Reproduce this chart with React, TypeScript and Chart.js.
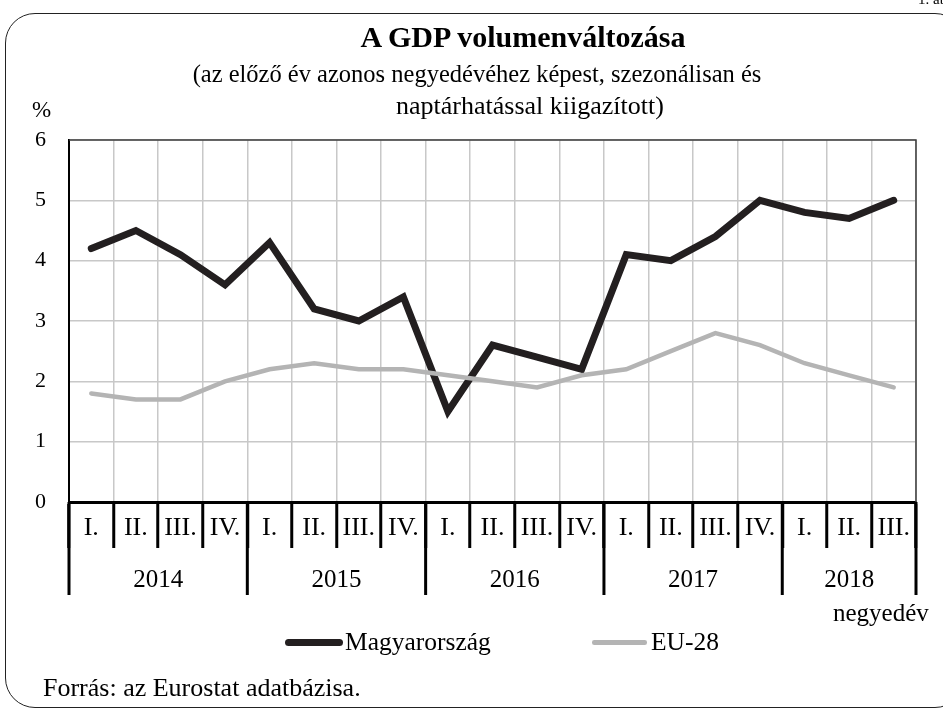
import React, { useEffect, useRef } from "react";
import { Chart, registerables } from "chart.js";

Chart.register(...registerables);

const quarterLabels = [
  "I.", "II.", "III.", "IV.",
  "I.", "II.", "III.", "IV.",
  "I.", "II.", "III.", "IV.",
  "I.", "II.", "III.", "IV.",
  "I.", "II.", "III.",
];
const yearLabels = ["2014", "2015", "2016", "2017", "2018"];
const quartersPerYear = [4, 4, 4, 4, 3];
const hungary = [4.2, 4.5, 4.1, 3.6, 4.3, 3.2, 3.0, 3.4, 1.5, 2.6, 2.4, 2.2, 4.1, 4.0, 4.4, 5.0, 4.8, 4.7, 5.0];
const eu28 = [1.8, 1.7, 1.7, 2.0, 2.2, 2.3, 2.2, 2.2, 2.1, 2.0, 1.9, 2.1, 2.2, 2.5, 2.8, 2.6, 2.3, 2.1, 1.9];
const yMin = 0;
const yMax = 6;
const yStep = 1;

const FONT = "'Liberation Serif', 'Times New Roman', serif";

const yearAxisPlugin = {
  id: "yearAxis",
  afterDraw(chart: any) {
    const { ctx, chartArea, scales } = chart;
    const x = scales.x;
    const half = (x.getPixelForValue(1) - x.getPixelForValue(0)) / 2;
    ctx.save();
    ctx.strokeStyle = "#3c3c3c";
    ctx.lineWidth = 1.5;
    ctx.beginPath();
    ctx.moveTo(chartArea.left, chartArea.top);
    ctx.lineTo(chartArea.right, chartArea.top);
    ctx.lineTo(chartArea.right, chartArea.bottom);
    ctx.stroke();

    const bounds: number[] = [0];
    let acc = 0;
    quartersPerYear.forEach((c) => {
      acc += c;
      bounds.push(acc);
    });
    const bx = (b: number) =>
      b === 0 ? x.getPixelForValue(0) - half : x.getPixelForValue(b - 1) + half;
    ctx.strokeStyle = "#000";
    ctx.lineWidth = 3;
    ctx.lineCap = "butt";
    bounds.forEach((b) => {
      const px = bx(b);
      ctx.beginPath();
      ctx.moveTo(px, chartArea.bottom);
      ctx.lineTo(px, chartArea.bottom + 93);
      ctx.stroke();
    });
    ctx.fillStyle = "#000";
    ctx.font = `25px ${FONT}`;
    ctx.textAlign = "center";
    ctx.textBaseline = "alphabetic";
    yearLabels.forEach((yl, i) => {
      const c = (bx(bounds[i]) + bx(bounds[i + 1])) / 2;
      ctx.fillText(yl, c, chartArea.bottom + 85);
    });
    ctx.restore();
  },
};

function App() {
  const ref = useRef<HTMLCanvasElement | null>(null);

  useEffect(() => {
    if (!ref.current) return;
    const chart = new Chart(ref.current, {
      type: "line",
      data: {
        labels: quarterLabels,
        datasets: [
          {
            label: "EU-28",
            data: eu28,
            borderColor: "#b4b4b4",
            backgroundColor: "#b4b4b4",
            borderWidth: 4.5,
            pointRadius: 0,
            tension: 0,
            borderJoinStyle: "miter",
            borderCapStyle: "round",
            order: 0,
          },
          {
            label: "Magyarország",
            data: hungary,
            borderColor: "#231f20",
            backgroundColor: "#231f20",
            borderWidth: 7,
            pointRadius: 0,
            tension: 0,
            borderJoinStyle: "miter",
            borderCapStyle: "round",
            order: 1,
          },
        ],
      },
      options: {
        responsive: false,
        animation: false,
        layout: { padding: { top: 140, right: 27, left: 0, bottom: 0 } },
        plugins: {
          legend: { display: false },
          title: { display: false },
          tooltip: { enabled: false },
        },
        scales: {
          x: {
            offset: true,
            grid: {
              offset: true,
              color: "#c8c8c8",
              lineWidth: 1.5,
              drawTicks: true,
              tickLength: 46,
              tickColor: "#000",
              tickWidth: 3,
            },
            border: { display: true, color: "#000", width: 3 },
            ticks: {
              autoSkip: false,
              maxRotation: 0,
              minRotation: 0,
              padding: -35,
              color: "#000",
              font: { family: FONT, size: 26 },
            },
            afterFit(scale: any) {
              scale.height = 208;
            },
          },
          y: {
            min: yMin,
            max: yMax,
            grid: { color: "#c8c8c8", lineWidth: 1.5, drawTicks: false },
            border: { display: true, color: "#000", width: 2 },
            ticks: {
              stepSize: yStep,
              padding: 23,
              color: "#000",
              font: { family: FONT, size: 22 },
            },
            afterFit(scale: any) {
              scale.width = 69;
            },
          },
        },
      },
      plugins: [yearAxisPlugin],
    } as any);
    return () => chart.destroy();
  }, []);

  const text = (
    content: string,
    style: React.CSSProperties
  ): React.ReactElement => (
    <div
      style={{
        position: "absolute",
        whiteSpace: "nowrap",
        lineHeight: 1,
        ...style,
      }}
    >
      {content}
    </div>
  );

  return (
    <div
      style={{
        position: "fixed",
        left: 0,
        top: 0,
        width: 943,
        height: 710,
        overflow: "hidden",
        background: "#fff",
        fontFamily: FONT,
        color: "#000",
      }}
    >
      <div
        style={{
          position: "absolute",
          left: 5,
          top: 13,
          width: 960,
          height: 695,
          border: "1.5px solid #222",
          borderRadius: 30,
          boxSizing: "border-box",
        }}
      />
      <canvas
        ref={ref}
        width={943}
        height={710}
        style={{ position: "absolute", left: 0, top: 0, width: 943, height: 710 }}
      />
      {text("1. ábra", { left: 918, top: -8, fontSize: 15 })}
      {text("A GDP volumenváltozása", {
        left: 223,
        width: 600,
        textAlign: "center",
        top: 22,
        fontSize: 30,
        fontWeight: "bold",
      })}
      {text("(az előző év azonos negyedévéhez képest, szezonálisan és", {
        left: 77,
        width: 800,
        textAlign: "center",
        top: 61.5,
        fontSize: 24.5,
      })}
      {text("naptárhatással kiigazított)", {
        left: 230,
        width: 600,
        textAlign: "center",
        top: 93,
        fontSize: 26,
      })}
      {text("%", { left: 32, top: 98, fontSize: 23 })}
      {text("negyedév", { left: 833, top: 600, fontSize: 25 })}
      <div
        style={{
          position: "absolute",
          left: 285,
          top: 638.5,
          width: 58,
          height: 7,
          borderRadius: 3.5,
          background: "#231f20",
        }}
      />
      {text("Magyarország", { left: 345, top: 629, fontSize: 25.5 })}
      <div
        style={{
          position: "absolute",
          left: 592,
          top: 640,
          width: 55,
          height: 4.5,
          borderRadius: 2.25,
          background: "#b4b4b4",
        }}
      />
      {text("EU-28", { left: 651, top: 629, fontSize: 25.5 })}
      {text("Forrás: az Eurostat adatbázisa.", { left: 43, top: 675, fontSize: 26 })}
    </div>
  );
}

export default App;
